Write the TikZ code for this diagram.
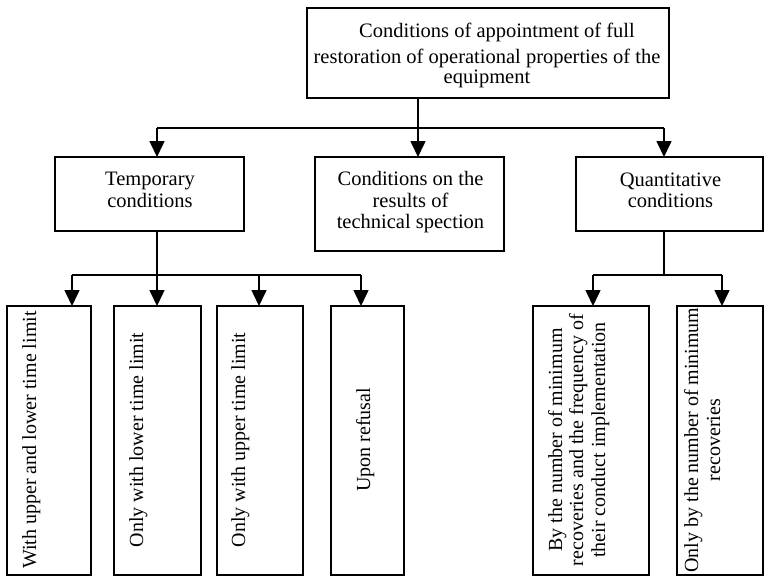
\documentclass[tikz,border=0pt]{standalone}
\usepackage{fontspec}
\setmainfont{Liberation Serif}
\usetikzlibrary{arrows.meta}
\begin{document}
\begin{tikzpicture}[x=1pt,y=-1pt,
  box/.style={draw=black,line width=1.6pt,rectangle,inner sep=0pt,outer sep=0pt},
  conn/.style={draw=black,line width=1.6pt},
  arr/.style={conn,-{Triangle[width=15pt,length=16pt]}},
  lbl/.style={inner sep=0pt,anchor=base,font=\fontsize{20.5}{22}\selectfont},
  vlbl/.style={inner sep=0pt,anchor=base,rotate=90,font=\fontsize{20}{22}\selectfont}]
\useasboundingbox (0,0) rectangle (764,576);

% boxes
\node[box,minimum width=362pt,minimum height=90pt] (top) at (488,53) {};
\node[box,minimum width=189pt,minimum height=74pt] (temp) at (149.5,194) {};
\node[box,minimum width=189pt,minimum height=94pt] (mid) at (409.5,204) {};
\node[box,minimum width=187pt,minimum height=74pt] (quant) at (669.5,194) {};
\node[box,minimum width=84pt,minimum height=269pt] (b1) at (49,440.5) {};
\node[box,minimum width=87pt,minimum height=269pt] (b2) at (157.5,440.5) {};
\node[box,minimum width=86pt,minimum height=269pt] (b3) at (260,440.5) {};
\node[box,minimum width=73pt,minimum height=269pt] (b4) at (367.5,440.5) {};
\node[box,minimum width=116pt,minimum height=269pt] (b5) at (591,440.5) {};
\node[box,minimum width=86pt,minimum height=269pt] (b6) at (720,440.5) {};

% texts
\node[lbl] (t1) at (497,37) {Conditions of appointment of full};
\node[lbl] (t2) at (487,63) {restoration of operational properties of the};
\node[lbl] (t3) at (487,83) {equipment};
\node[lbl] (tp1) at (150,185) {Temporary};
\node[lbl] (tp2) at (150,207) {conditions};
\node[lbl] (m1) at (410.5,185) {Conditions on the};
\node[lbl] (m2) at (410.5,207) {results of};
\node[lbl] (m3) at (410.5,228) {technical spection};
\node[lbl] (q1) at (670.5,186) {Quantitative};
\node[lbl] (q2) at (670.5,207) {conditions};

\node[vlbl] (v1) at (36,440) {With upper and lower time limit};
\node[vlbl] (v2) at (143,440) {Only with lower time limit};
\node[vlbl] (v3) at (245,440) {Only with upper time limit};
\node[vlbl] (v4) at (370,440) {Upon refusal};
\node[vlbl] (v5a) at (562,440) {By the number of minimum};
\node[vlbl] (v5b) at (583,440) {recoveries and the frequency of};
\node[vlbl] (v5c) at (605,440) {their conduct implementation};
\node[vlbl] (v6a) at (698,440) {Only by the number of minimum};
\node[vlbl] (v6b) at (720,440) {recoveries};

% connectors level 1
\coordinate (j1) at (418,128);
\coordinate (a1) at (157,128);
\coordinate (a3) at (664,128);
\draw[conn] (top.south -| j1) -- (j1);
\draw[conn] (a1) -- (a3);
\draw[arr] (a1) -- (a1 |- temp.north);
\draw[arr] (j1) -- (j1 |- mid.north);
\draw[arr] (a3) -- (a3 |- quant.north);

% connectors level 2 (temporary)
\coordinate (t0) at (157,275);
\coordinate (tb1) at (72,275);
\coordinate (tb3) at (259,275);
\coordinate (tb4) at (361,275);
\draw[conn] (temp.south -| t0) -- (t0);
\draw[conn] (tb1) -- (tb4);
\draw[arr] (tb1) -- (tb1 |- b1.north);
\draw[arr] (t0) -- (t0 |- b2.north);
\draw[arr] (tb3) -- (tb3 |- b3.north);
\draw[arr] (tb4) -- (tb4 |- b4.north);

% connectors level 2 (quantitative)
\coordinate (q0) at (664,275);
\coordinate (qb5) at (593,275);
\coordinate (qb6) at (722,275);
\draw[conn] (quant.south -| q0) -- (q0);
\draw[conn] (qb5) -- (qb6);
\draw[arr] (qb5) -- (qb5 |- b5.north);
\draw[arr] (qb6) -- (qb6 |- b6.north);
\end{tikzpicture}
\end{document}
